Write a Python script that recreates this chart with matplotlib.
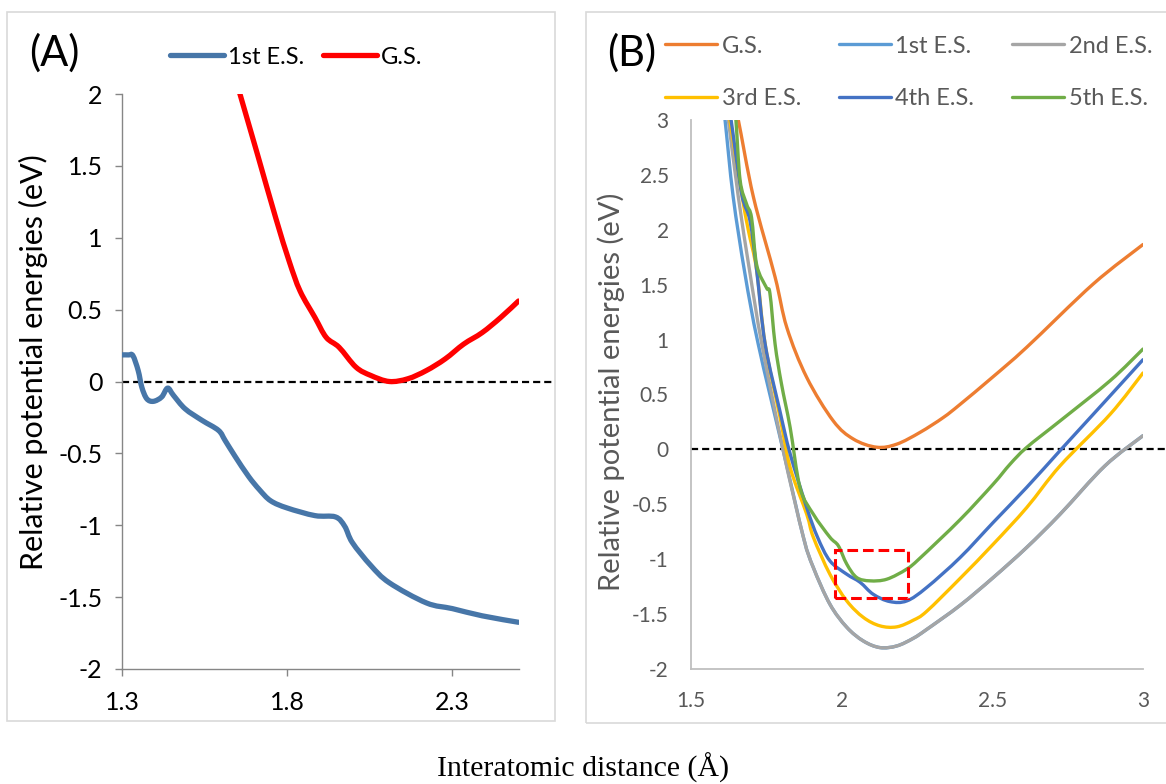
import numpy as np
import matplotlib
matplotlib.use("Agg")
import matplotlib.pyplot as plt
from matplotlib.patches import Rectangle, PathPatch
from matplotlib.path import Path
from matplotlib import rcParams

rcParams["font.family"] = ["Lato", "DejaVu Sans"]
rcParams["axes.unicode_minus"] = False

# ---- panel A: ground state vs. 1st excited state ----
a_es1_x = [1.30, 1.32, 1.333, 1.349, 1.36, 1.375, 1.395, 1.42, 1.438, 1.456, 1.491, 1.542,
           1.592, 1.612, 1.642, 1.683, 1.716, 1.75, 1.80, 1.884, 1.946, 1.974, 1.997,
           2.053, 2.109, 2.221, 2.30, 2.39, 2.50]
a_es1_y = [0.185, 0.185, 0.18, 0.076, -0.04, -0.12, -0.138, -0.108, -0.046, -0.097, -0.19, -0.27,
           -0.34, -0.41, -0.52, -0.66, -0.753, -0.83, -0.88, -0.933, -0.942, -1.007, -1.12,
           -1.28, -1.40, -1.54, -1.58, -1.63, -1.675]
a_gs_x = [1.645, 1.657, 1.71, 1.765, 1.806, 1.839, 1.884, 1.918, 1.957, 2.008, 2.053,
          2.109, 2.165, 2.221, 2.278, 2.334, 2.39, 2.446, 2.50]
a_gs_y = [2.1, 2.0, 1.58, 1.14, 0.836, 0.629, 0.445, 0.307, 0.238, 0.10, 0.042,
          0.0, 0.019, 0.076, 0.157, 0.26, 0.34, 0.445, 0.56]

# ---- panel B: ground + five excited states ----
b_gs_x = [1.645, 1.657, 1.707, 1.779, 1.818, 1.884, 1.972, 2.039, 2.116, 2.183,
          2.26, 2.337, 2.393, 2.5, 2.614, 2.835, 3.0]
b_gs_y = [3.1, 3.0, 2.30, 1.57, 1.11, 0.656, 0.26, 0.094, 0.02, 0.048,
          0.155, 0.29, 0.41, 0.656, 0.93, 1.507, 1.866]

b_es1_x = [1.607, 1.613, 1.64, 1.679, 1.723, 1.806, 1.873, 1.906, 1.961, 2.017, 2.072,
           2.127, 2.183, 2.238, 2.282, 2.393, 2.503, 2.614, 2.725, 2.874, 3.0]
b_es1_y = [3.1, 3.0, 2.30, 1.60, 0.96, -0.01, -0.80, -1.076, -1.41, -1.62, -1.745,
           -1.805, -1.79, -1.72, -1.64, -1.42, -1.167, -0.893, -0.59, -0.149, 0.125]

b_es2_x = [1.618, 1.624, 1.657, 1.696, 1.735, 1.806, 1.873, 1.906, 1.961, 2.017, 2.072,
           2.127, 2.183, 2.238, 2.282, 2.393, 2.503, 2.614, 2.725, 2.874, 3.0]
b_es2_y = [3.1, 3.0, 2.30, 1.60, 0.96, -0.01, -0.80, -1.076, -1.41, -1.62, -1.745,
           -1.805, -1.79, -1.72, -1.64, -1.42, -1.167, -0.893, -0.59, -0.149, 0.125]

b_es3_x = [1.622, 1.629, 1.668, 1.69, 1.718, 1.746, 1.795, 1.829, 1.884, 1.906, 1.961,
           2.017, 2.072, 2.127, 2.183, 2.238, 2.282, 2.393, 2.503, 2.614, 2.725, 2.891, 3.0]
b_es3_y = [3.1, 3.0, 2.33, 2.0, 1.63, 0.96, 0.30, -0.164, -0.59, -0.80, -1.137,
           -1.38, -1.53, -1.607, -1.616, -1.555, -1.475, -1.175, -0.863, -0.53, -0.149, 0.32, 0.696]

b_es4_x = [1.625, 1.633, 1.668, 1.696, 1.718, 1.746, 1.795, 1.829, 1.884, 1.92, 1.961,
           2.017, 2.061, 2.105, 2.16, 2.216, 2.282, 2.393, 2.503, 2.614, 2.725, 2.835, 3.0]
b_es4_y = [3.1, 3.0, 2.33, 2.08, 1.63, 0.96, 0.35, -0.04, -0.53, -0.80, -1.015,
           -1.137, -1.21, -1.32, -1.386, -1.38, -1.258, -0.985, -0.665, -0.346, -0.01, 0.32, 0.817]

b_es5_x = [1.642, 1.649, 1.663, 1.685, 1.701, 1.718, 1.751, 1.762, 1.779, 1.80, 1.829,
           1.862, 1.906, 1.961, 1.989, 2.017, 2.05, 2.094, 2.15, 2.216, 2.26, 2.393, 2.503,
           2.559, 2.614, 2.725, 2.891, 3.0]
b_es5_y = [3.1, 3.0, 2.45, 2.23, 2.11, 1.68, 1.47, 1.42, 0.96, 0.60, 0.2,
           -0.35, -0.59, -0.80, -0.878, -1.045, -1.167, -1.197, -1.182, -1.09, -0.99, -0.64, -0.316,
           -0.134, 0.018, 0.26, 0.626, 0.914]

b_names = ["G.S.", "1st E.S.", "2nd E.S.", "3rd E.S.", "4th E.S.", "5th E.S."]
b_colors = ["#ED7D31", "#5B9BD5", "#A5A5A5", "#FFC000", "#4472C4", "#70AD47"]
b_series = [(b_gs_x, b_gs_y), (b_es1_x, b_es1_y), (b_es2_x, b_es2_y),
            (b_es3_x, b_es3_y), (b_es4_x, b_es4_y), (b_es5_x, b_es5_y)]

# highlighted window (x0, x1, y0, y1)
box_x = [1.978, 2.221]
box_y = [-1.355, -0.918]

W, H = 1166, 784
fig = plt.figure(figsize=(W / 100, H / 100), dpi=100)

def fx(px): return px / W
def fy(py): return 1 - py / H

def smooth_line(ax, xs, ys, **kw):
    """spreadsheet-style smoothed line: cubic Bezier segments through every point"""
    p = np.column_stack([xs, ys]).astype(float)
    n = len(p)
    verts, codes = [p[0]], [Path.MOVETO]
    for i in range(n - 1):
        p0 = p[i - 1] if i > 0 else p[i]
        p3 = p[i + 2] if i + 2 < n else p[i + 1]
        verts += [p[i] + (p[i + 1] - p0) / 6, p[i + 1] - (p3 - p[i]) / 6, p[i + 1]]
        codes += [Path.CURVE4] * 3
    patch = PathPatch(Path(verts, codes), fill=False, capstyle="round",
                      joinstyle="round", **kw)
    ax.add_patch(patch)
    return patch

# light frames round each panel
for x0, y0, x1, y1 in [(7, 12, 555, 721), (586, 12, 1170, 723)]:
    fig.add_artist(Rectangle((fx(x0), fy(y1)), fx(x1) - fx(x0), fy(y0) - fy(y1),
                             transform=fig.transFigure, fill=False,
                             edgecolor="#D9D9D9", linewidth=1.2))

# ================= (A) =================
axA = fig.add_axes([fx(122), fy(669), fx(518.5) - fx(122), fy(94) - fy(669)])
smooth_line(axA, a_es1_x, a_es1_y, edgecolor="#4776A8", lw=3.8, zorder=3)
smooth_line(axA, a_gs_x, a_gs_y, edgecolor="#FF0000", lw=3.8, zorder=3)
lA1, = axA.plot([], [], color="#4776A8", lw=3.8, solid_capstyle="round", label="1st E.S.")
lA2, = axA.plot([], [], color="#FF0000", lw=3.8, solid_capstyle="round", label="G.S.")
axA.axhline(0, xmin=0, xmax=(555 - 122) / (518.5 - 122), color="black", lw=1.6,
            dashes=(3.2, 1.8), clip_on=False, zorder=1)
axA.set_xlim(1.3, 2.5)
axA.set_ylim(-2, 2)
axA.set_xticks([1.3, 1.8, 2.3])
axA.set_xticklabels(["1.3", "1.8", "2.3"])
yt = [-2, -1.5, -1, -0.5, 0, 0.5, 1, 1.5, 2]
axA.set_yticks(yt)
axA.set_yticklabels(["%g" % v for v in yt])
for s in ["top", "right"]:
    axA.spines[s].set_visible(False)
for s in ["left", "bottom"]:
    axA.spines[s].set_color("#868686")
    axA.spines[s].set_linewidth(1.0)
axA.tick_params(direction="out", length=5, width=1.0, color="#868686",
                labelsize=18, labelcolor="black")
axA.tick_params(axis="y", pad=9)
axA.tick_params(axis="x", pad=11)
fig.text(fx(33), fy(362), "Relative potential energies (eV)", rotation=90,
         ha="center", va="center", fontsize=22, color="black")
fig.text(fx(54), fy(53), "(A)", ha="center", va="center", fontsize=30, color="black")
fig.legend(handles=[lA1, lA2], loc="center left", bbox_to_anchor=(fx(170), fy(57)),
           bbox_transform=fig.transFigure, ncol=2, frameon=False, fontsize=17,
           handlelength=2.3, handletextpad=0.15, columnspacing=0.8, borderpad=0,
           borderaxespad=0)

# ================= (B) =================
axB = fig.add_axes([fx(691), fy(669), fx(1143) - fx(691), fy(120) - fy(669)])
lines = []
for (xs, ys), name, c in zip(b_series, b_names, b_colors):
    smooth_line(axB, xs, ys, edgecolor=c, lw=2.4, zorder=3)
    ln, = axB.plot([], [], color=c, lw=2.4, label=name, solid_capstyle="round")
    lines.append(ln)
axB.axhline(0, xmin=0, xmax=(1170 - 691) / (1143 - 691), color="black", lw=1.6,
            dashes=(3.2, 1.8), clip_on=False, zorder=1)
axB.add_patch(Rectangle((box_x[0], box_y[0]), box_x[1] - box_x[0], box_y[1] - box_y[0],
                        fill=False, edgecolor="#FF0000", lw=2.2, linestyle=(0, (3.5, 1.6)),
                        zorder=5))
axB.set_xlim(1.5, 3)
axB.set_ylim(-2, 3)
axB.set_xticks([1.5, 2, 2.5, 3])
axB.set_xticklabels(["1.5", "2", "2.5", "3"])
ytB = [-2, -1.5, -1, -0.5, 0, 0.5, 1, 1.5, 2, 2.5, 3]
axB.set_yticks(ytB)
axB.set_yticklabels(["%g" % v for v in ytB])
for s in ["top", "right"]:
    axB.spines[s].set_visible(False)
for s in ["left", "bottom"]:
    axB.spines[s].set_color("#BFBFBF")
    axB.spines[s].set_linewidth(1.3)
axB.tick_params(length=0, labelsize=15, labelcolor="#595959")
axB.tick_params(axis="y", pad=16)
axB.tick_params(axis="x", pad=16)
fig.text(fx(611), fy(392), "Relative potential energies (eV)", rotation=90,
         ha="center", va="center", fontsize=21, color="#595959")
fig.text(fx(632), fy(53), "(B)", ha="center", va="center", fontsize=30, color="black")
# matplotlib fills legend columns first, so reorder to read row by row
order = [0, 3, 1, 4, 2, 5]
legB = fig.legend(handles=[lines[i] for i in order], loc="center left",
                  bbox_to_anchor=(fx(665), fy(72.5)), bbox_transform=fig.transFigure,
                  ncol=3, frameon=False, fontsize=17, handlelength=2.2,
                  handletextpad=0.2, columnspacing=1.6, labelspacing=1.35,
                  borderpad=0, borderaxespad=0)
for t in legB.get_texts():
    t.set_color("#595959")

fig.text(0.5, fy(768), "Interatomic distance (Å)", ha="center", va="center",
         fontsize=21.5, family=["Liberation Serif", "DejaVu Serif"])

fig.savefig("out.png", dpi=100)
